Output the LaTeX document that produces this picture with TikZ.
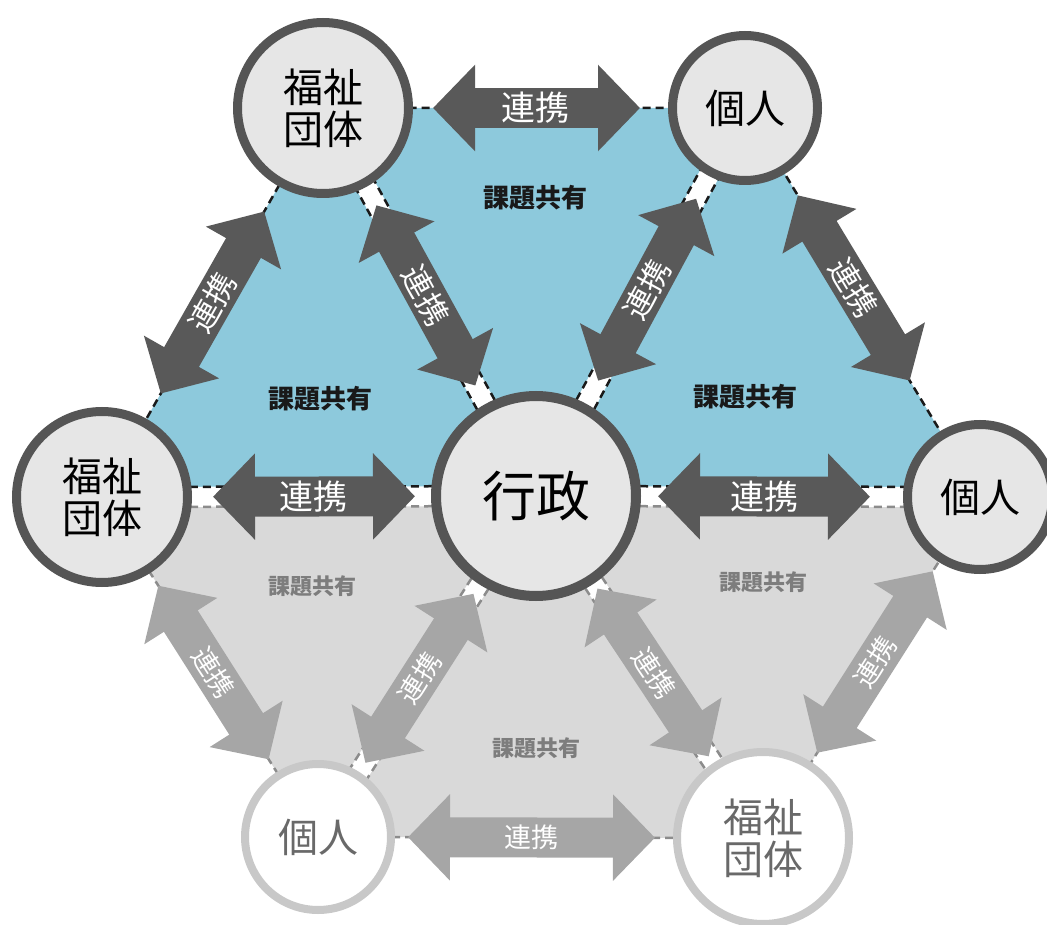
\documentclass[tikz,border=0pt]{standalone}
\usepackage{fontspec}
\setmainfont{Noto Sans CJK JP}
\usetikzlibrary{arrows.meta,calc,backgrounds}

\definecolor{blueshare}{RGB}{141,201,220}
\definecolor{grayshare}{RGB}{217,217,217}
\definecolor{arrowdark}{RGB}{89,89,89}
\definecolor{arrowlight}{RGB}{166,166,166}
\definecolor{ringdark}{RGB}{85,85,85}
\definecolor{ringlight}{RGB}{200,200,200}
\definecolor{circfill}{RGB}{230,230,230}
\definecolor{textgray}{RGB}{105,105,105}
\definecolor{labelgray}{RGB}{125,125,125}

\begin{document}
\begin{tikzpicture}[x=1pt,y=-1pt,
    >={Triangle[width=84pt,length=42pt]},
    actor/.style={circle, inner sep=0pt, align=center, line width=9pt, draw=ringdark,
        fill=circfill, minimum size=#1, font=\fontsize{40}{42}\selectfont},
    actorlight/.style={actor=#1, draw=ringlight, fill=white, line width=8pt, text=textgray},
    link/.style 2 args={line width=40pt, <->, shorten <=#1, shorten >=#2},
    linktext/.style={text=white, inner sep=0pt, font=\fontsize{#1}{#1}\selectfont},
    share/.style={font=\bfseries\fontsize{26}{28}\selectfont, text=black!90},
    sharelight/.style={font=\bfseries\fontsize{22}{24}\selectfont, text=labelgray},
    dashblk/.style={draw=black!90, line width=2.5pt, dash pattern=on 8pt off 5pt},
    dashgray/.style={draw=black!45, line width=2.5pt, dash pattern=on 8pt off 5pt},
    gapband/.style={draw=white, line width=20pt}]

\useasboundingbox (0,0) rectangle (1047,925);

% circles
\node[actor=200pt, line width=10pt, font=\fontsize{54}{56}\selectfont] (C) at (536,496) {行政};
\node[actor=171pt] (TL) at (323,108) {福祉\\団体};
\node[actor=145pt] (TR) at (745,108) {個人};
\node[actor=171pt] (L) at (102,497) {福祉\\団体};
\node[actor=145pt] (R) at (980,497) {個人};
\node[actorlight=146pt] (BL) at (318,837) {個人};
\node[actorlight=172pt] (BR) at (763,838) {福祉\\団体};

\begin{pgfonlayer}{background}
    % triangles
    \fill[blueshare] (TL.center) -- (TR.center) -- (C.center) -- cycle;
    \fill[blueshare] (L.center) -- (TL.center) -- (C.center) -- cycle;
    \fill[blueshare] (TR.center) -- (R.center) -- (C.center) -- cycle;
    \fill[grayshare] (L.center) -- (C.center) -- (BL.center) -- cycle;
    \fill[grayshare] (BL.center) -- (C.center) -- (BR.center) -- cycle;
    \fill[grayshare] (C.center) -- (R.center) -- (BR.center) -- cycle;

    % gaps along the spokes
    \foreach \v in {L,TL,TR,R,BR,BL}
        \draw[gapband] (C.center) -- (\v.center);
    \foreach \v/\ca/\cb in {L/dashgray/dashblk, TL/dashblk/dashblk, TR/dashblk/dashblk,
                            R/dashblk/dashgray, BR/dashgray/dashgray, BL/dashgray/dashgray} {
        \draw[\ca] ($(C.center)!10pt!90:(\v.center)$) -- ($(\v.center)!10pt!-90:(C.center)$);
        \draw[\cb] ($(C.center)!10pt!-90:(\v.center)$) -- ($(\v.center)!10pt!90:(C.center)$);
    }

    % outer edges
    \draw[dashblk] (L.center) -- (TL.center) -- (TR.center) -- (R.center);
    \draw[dashgray] (R.center) -- (BR.center) -- (BL.center) -- (L.center);
\end{pgfonlayer}

% labels
\node[share] (shareT) at (535,198) {課題共有};
\node[share] (shareL) at (320,399) {課題共有};
\node[share] (shareR) at (745,397) {課題共有};
\node[sharelight] (shareGL) at (312,586) {課題共有};
\node[sharelight] (shareGR) at (763,582) {課題共有};
\node[sharelight] (shareGB) at (536,748) {課題共有};

% links
\draw[link={21pt}{16pt}, arrowdark] (L) -- (C) node[pos=0.51, sloped, linktext=34] {連携};
\draw[link={20pt}{28pt}, arrowdark] (TL) -- (TR) node[pos=0.48, sloped, linktext=34] {連携};
\draw[link={17pt}{33pt}, arrowdark] (C) -- (R) node[pos=0.47, sloped, linktext=34] {連携};
\draw[link={29pt}{29pt}, arrowdark] (L) -- (TL) node[midway, sloped, linktext=31] {連携};
\draw[link={21pt}{21pt}, arrowdark] (TL) -- (C) node[midway, sloped, linktext=31] {連携};
\draw[link={26pt}{26pt}, arrowdark] (TR) -- (C) node[midway, sloped, linktext=31] {連携};
\draw[link={25pt}{59pt}, arrowdark] (TR) -- (R) node[pos=0.443, sloped, linktext=31] {連携};
\draw[link={15pt}{15pt}, arrowlight] (L) -- (BL) node[midway, sloped, linktext=27] {連携};
\draw[link={11pt}{11pt}, arrowlight] (C) -- (BL) node[midway, sloped, linktext=27] {連携};
\draw[link={6pt}{8pt}, arrowlight] (C) -- (BR) node[midway, sloped, linktext=27] {連携};
\draw[link={11pt}{11pt}, arrowlight] (BR) -- (R) node[midway, sloped, linktext=27] {連携};
\draw[link={13pt}{18pt}, arrowlight] (BL) -- (BR) node[pos=0.49, sloped, linktext=27] {連携};

\end{tikzpicture}
\end{document}
